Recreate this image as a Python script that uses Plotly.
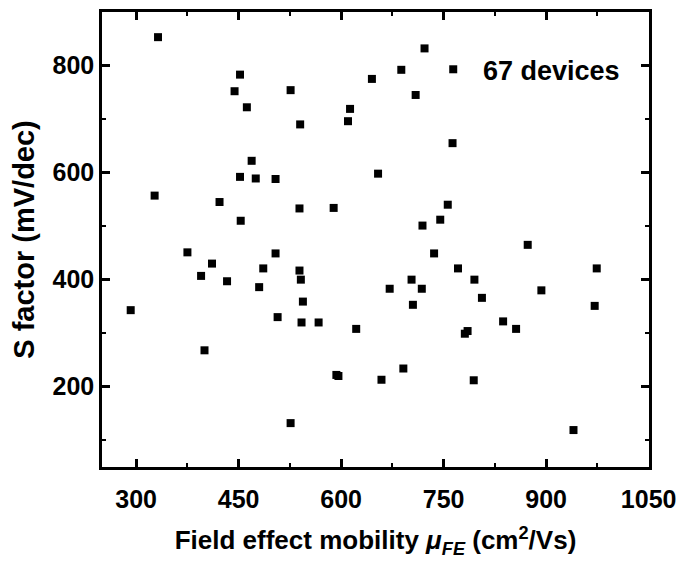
import plotly.graph_objects as go

mobility = [332, 452, 444, 462, 526, 540, 613, 610, 645, 469, 452, 475, 504, 654,
            327, 422, 539, 589, 453, 722, 688, 764, 709, 763, 756, 745, 719, 873,
            375, 504, 411, 395, 486, 539, 541, 433, 480, 292, 544, 507, 542, 567,
            622, 400, 593, 596, 659, 526, 671, 736, 771, 703, 718, 795, 705, 806,
            974, 893, 971, 837, 856, 781, 785, 691, 794, 940]
s_factor = [853, 783, 752, 722, 754, 690, 719, 696, 775, 622, 592, 589, 588, 598,
            557, 545, 533, 534, 510, 832, 792, 793, 745, 655, 540, 512, 501, 465,
            451, 449, 430, 407, 421, 417, 400, 397, 386, 343, 359, 330, 320, 320,
            308, 268, 222, 220, 213, 132, 383, 449, 421, 400, 383, 400, 353, 366,
            421, 380, 351, 322, 308, 299, 304, 234, 212, 119]

x_ticks = [300, 450, 600, 750, 900, 1050]
y_ticks = [200, 400, 600, 800]

tick_font = dict(family="Liberation Sans, Arial", size=25, color="black", weight="bold")
title_font = dict(family="Liberation Sans, Arial", size=26, color="black", weight="bold")

fig = go.Figure()
fig.add_trace(go.Scatter(
    x=mobility, y=s_factor, mode="markers",
    marker=dict(symbol="square", size=8, color="black", line=dict(width=0)),
    showlegend=False))

axis_common = dict(
    showline=True, linewidth=2.5, linecolor="black", mirror="allticks",
    ticks="inside", ticklen=8, tickwidth=2.5, tickcolor="black",
    showgrid=False, zeroline=False, tickfont=tick_font,
    ticklabeloverflow="allow", automargin=False,
)

fig.update_xaxes(
    range=[250, 1050.5], tickvals=x_ticks, ticktext=[str(v) for v in x_ticks],
    ticklabelstandoff=8,
    minor=dict(ticks="inside", ticklen=4, tickwidth=2, tickcolor="black",
               tickvals=[375, 525, 675, 825, 975]),
    title=dict(text="Field effect mobility <i>μ</i><sub><i>FE</i></sub> (cm<sup>2</sup>/Vs)",
               font=title_font, standoff=20),
    **axis_common)
fig.update_yaxes(
    range=[50, 900], tickvals=y_ticks, ticktext=[str(v) for v in y_ticks],
    minor=dict(ticks="inside", ticklen=4, tickwidth=2, tickcolor="black",
               tickvals=[100, 300, 500, 700]),
    title=dict(text="S factor (mV/dec)", font=dict(title_font, size=29), standoff=10),
    **axis_common)

fig.add_annotation(x=804, y=789, xref="x", yref="y", text="67 devices",
                   showarrow=False, xanchor="left", yanchor="middle",
                   font=dict(family="Liberation Sans, Arial", size=27, color="black", weight="bold"))

fig.update_layout(
    width=676, height=566,
    margin=dict(l=102, r=27, t=12, b=99),
    plot_bgcolor="white", paper_bgcolor="white",
)

fig.write_html("out.html")
